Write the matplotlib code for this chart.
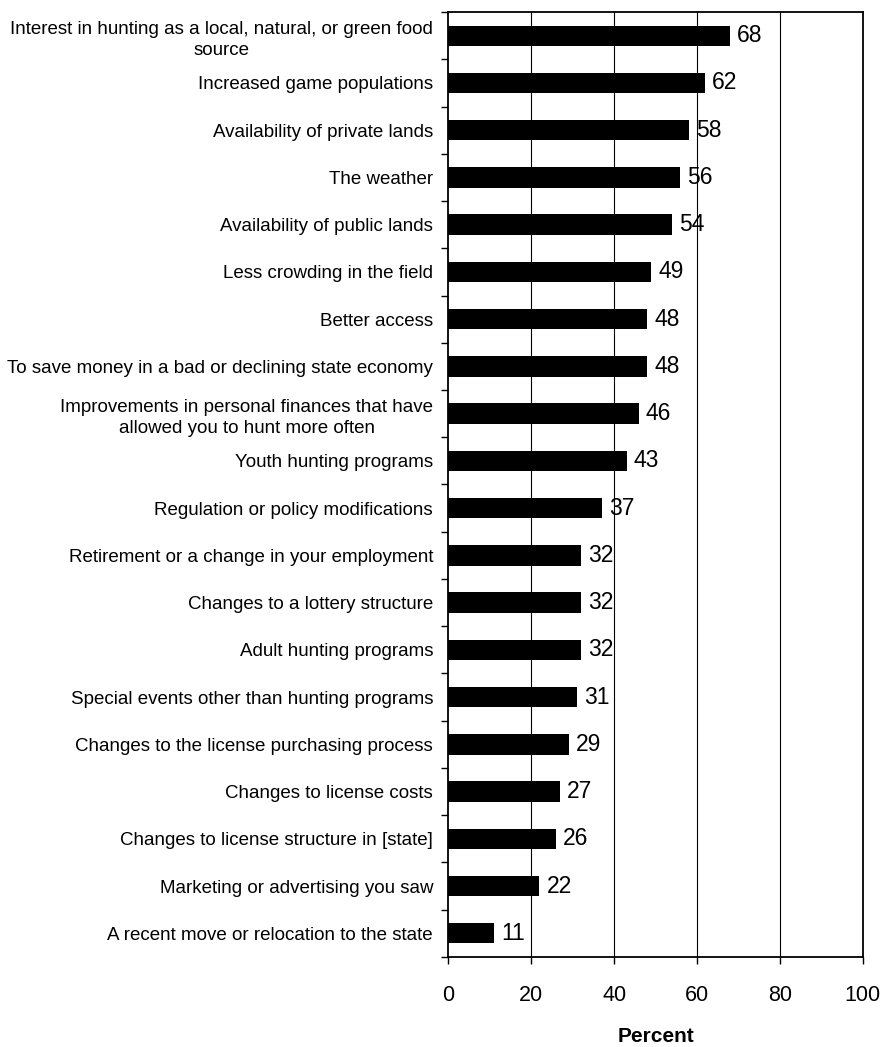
import matplotlib
matplotlib.use("Agg")
import matplotlib.pyplot as plt
import numpy as np

categories = [
    "Interest in hunting as a local, natural, or green food\nsource",
    "Increased game populations",
    "Availability of private lands",
    "The weather",
    "Availability of public lands",
    "Less crowding in the field",
    "Better access",
    "To save money in a bad or declining state economy",
    "Improvements in personal finances that have\nallowed you to hunt more often",
    "Youth hunting programs",
    "Regulation or policy modifications",
    "Retirement or a change in your employment",
    "Changes to a lottery structure",
    "Adult hunting programs",
    "Special events other than hunting programs",
    "Changes to the license purchasing process",
    "Changes to license costs",
    "Changes to license structure in [state]",
    "Marketing or advertising you saw",
    "A recent move or relocation to the state",
]
values = [68, 62, 58, 56, 54, 49, 48, 48, 46, 43, 37, 32, 32, 32, 31, 29, 27, 26, 22, 11]
xticks = [0, 20, 40, 60, 80, 100]

plt.rcParams['font.family'] = ['Liberation Sans', 'DejaVu Sans']

fig = plt.figure(figsize=(8.85, 10.47), dpi=100)
ax = fig.add_axes([0.5066, 0.086, 0.4682, 0.9025])

n = len(categories)
y = np.arange(n)
ax.barh(y, values, height=0.43, color='black', zorder=3)
for yi, v in zip(y, values):
    ax.text(v + 1.7, yi, str(v), va='center', ha='left', fontsize=16.5, zorder=4)

ax.set_ylim(n - 0.5, -0.5)
ax.set_xlim(0, 100)
ax.set_xticks(xticks)
ax.set_xticklabels([str(t) for t in xticks], fontsize=15.5)
ax.tick_params(axis='x', direction='out', length=5, width=1, pad=15)
ax.set_yticks(y)
ax.set_yticklabels(categories, fontsize=13.5)
ax.tick_params(axis='y', which='major', length=0, pad=11)
ax.set_yticks(np.arange(-0.5, n, 1.0), minor=True)
ax.tick_params(axis='y', which='minor', direction='out', length=5, width=1)
for t in ax.get_yticklabels():
    t.set_multialignment('center')
    t.set_linespacing(1.3)

for xv in [20, 40, 60, 80]:
    ax.axvline(xv, color='black', lw=0.8, zorder=1)
for s in ax.spines.values():
    s.set_linewidth(1.3)
    s.set_color('black')

ax.set_xlabel("Percent", fontsize=15, fontweight='bold', labelpad=15)

fig.savefig("out.png", dpi=100)
